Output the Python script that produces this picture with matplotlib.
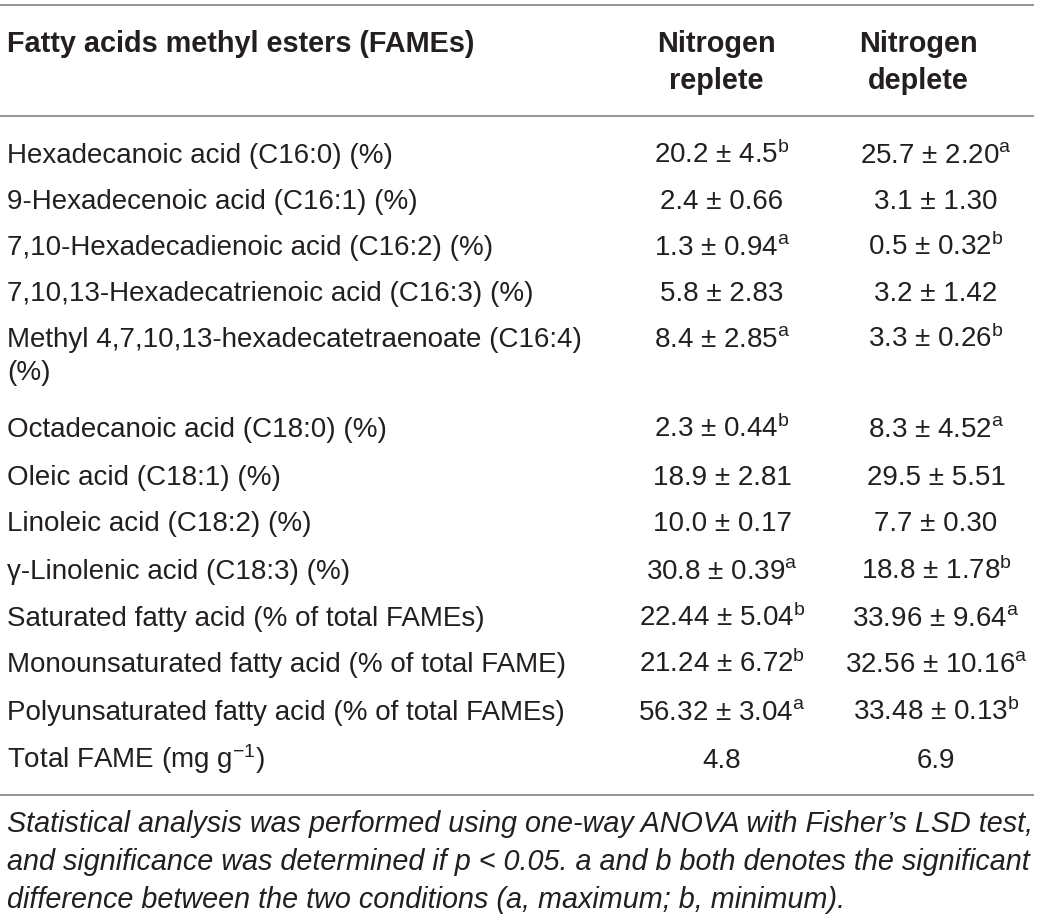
import matplotlib
matplotlib.use("Agg")
import matplotlib.pyplot as plt
from matplotlib import font_manager as fm

# ---------------- data ----------------
header_col0 = "Fatty acids methyl esters (FAMEs)"
header_cols = ["Nitrogen\nreplete", "Nitrogen\ndeplete"]

fames = [
    "Hexadecanoic acid (C16:0) (%)",
    "9-Hexadecenoic acid (C16:1) (%)",
    "7,10-Hexadecadienoic acid (C16:2) (%)",
    "7,10,13-Hexadecatrienoic acid (C16:3) (%)",
    "Methyl 4,7,10,13-hexadecatetraenoate (C16:4)\n(%)",
    "Octadecanoic acid (C18:0) (%)",
    "Oleic acid (C18:1) (%)",
    "Linoleic acid (C18:2) (%)",
    "\u03b3-Linolenic acid (C18:3) (%)",
    "Saturated fatty acid (% of total FAMEs)",
    "Monounsaturated fatty acid (% of total FAME)",
    "Polyunsaturated fatty acid (% of total FAMEs)",
    "Total FAME (mg g$^{\u2212\\mathregular{1}}$)",
]
replete_mean = ["20.2", "2.4", "1.3", "5.8", "8.4", "2.3", "18.9", "10.0", "30.8",
                "22.44", "21.24", "56.32", "4.8"]
replete_sd = ["4.5", "0.66", "0.94", "2.83", "2.85", "0.44", "2.81", "0.17", "0.39",
              "5.04", "6.72", "3.04", ""]
replete_sig = ["b", "", "a", "", "a", "b", "", "", "a", "b", "b", "a", ""]
deplete_mean = ["25.7", "3.1", "0.5", "3.2", "3.3", "8.3", "29.5", "7.7", "18.8",
                "33.96", "32.56", "33.48", "6.9"]
deplete_sd = ["2.20", "1.30", "0.32", "1.42", "0.26", "4.52", "5.51", "0.30", "1.78",
              "9.64", "10.16", "0.13", ""]
deplete_sig = ["a", "", "b", "", "b", "a", "", "", "b", "a", "a", "b", ""]

footnote = [
    "Statistical analysis was performed using one-way ANOVA with Fisher\u2019s LSD test,",
    "and significance was determined if p < 0.05. a and b both denotes the significant",
    "difference between the two conditions (a, maximum; b, minimum).",
]

# ---------------- style ----------------
names = {f.name for f in fm.fontManager.ttflist}
FONT = "Liberation Sans" if "Liberation Sans" in names else "DejaVu Sans"
NARROW = "Liberation Sans Narrow" if "Liberation Sans Narrow" in names else FONT

plt.rcParams["font.family"] = [FONT, "DejaVu Sans"]
plt.rcParams["mathtext.fontset"] = "custom"
plt.rcParams["mathtext.rm"] = FONT
plt.rcParams["mathtext.it"] = FONT + ":italic"
plt.rcParams["mathtext.bf"] = FONT + ":bold"

TXT = "#231f20"
LINE = "#8c8c8c"
W, H = 1040, 918
fig = plt.figure(figsize=(W / 100, H / 100), dpi=100)
ax = fig.add_axes([0, 0, 1, 1])
ax.set_xlim(0, W)
ax.set_ylim(H, 0)
ax.axis("off")

FS = 20
HFS = 20.8
# rules
for y in (5, 116, 795):
    ax.plot([0, 1034], [y, y], color=LINE, lw=1.3, solid_capstyle="butt")

# header
ax.text(7, 52, header_col0, fontsize=HFS, fontweight="bold", color=TXT, va="baseline", ha="left")
col_x = [716, 918]
for cx, h in zip(col_x, header_cols):
    l1, l2 = h.split("\n")
    ax.text(cx, 52, l1, fontsize=HFS, fontweight="bold", color=TXT, va="baseline", ha="center")
    ax.text(cx, 89, l2, fontsize=HFS, fontweight="bold", color=TXT, va="baseline", ha="center")

# rows
baselines = [163, 209, 255, 301, 347, 437, 485, 531, 579, 626, 672, 720, 768]
val_x = [722, 936]


def cell(m, s, g):
    t = m if not s else f"{m} \u00b1 {s}"
    if g:
        t += r"$^{\mathregular{" + g + "}}$"
    return t


for i, name in enumerate(fames):
    yb = baselines[i]
    lines = name.split("\n")
    for k, ln in enumerate(lines):
        ax.text(7, yb + 33 * k, ln, fontsize=FS, color=TXT, va="baseline", ha="left")
    ax.text(val_x[0], yb, cell(replete_mean[i], replete_sd[i], replete_sig[i]),
            fontsize=FS, color=TXT, va="baseline", ha="center")
    ax.text(val_x[1], yb, cell(deplete_mean[i], deplete_sd[i], deplete_sig[i]),
            fontsize=FS, color=TXT, va="baseline", ha="center")

# footnote, fit to width
fig.canvas.draw()
r = fig.canvas.get_renderer()
fbase = [832, 870, 908]
fs_fn = 19
probe = ax.text(7, fbase[0], footnote[0], fontsize=fs_fn, style="italic", family=[NARROW, "DejaVu Sans"],
                color=TXT, va="baseline", ha="left")
wpx = probe.get_window_extent(r).width
fs_fn = fs_fn * 1026 / wpx
probe.remove()
for yb, ln in zip(fbase, footnote):
    ax.text(7, yb, ln, fontsize=fs_fn, style="italic", family=[NARROW, "DejaVu Sans"],
            color=TXT, va="baseline", ha="left")

fig.savefig("out.png", dpi=100, facecolor="white")
